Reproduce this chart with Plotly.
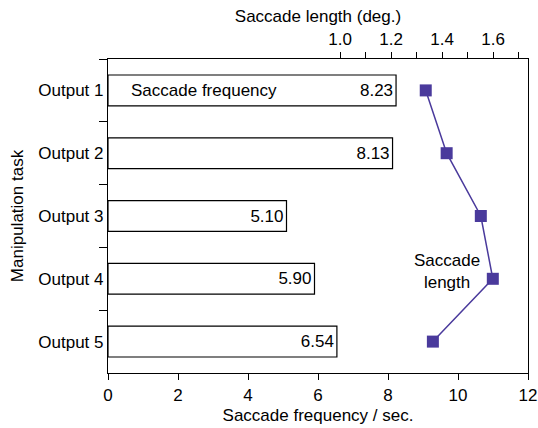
import plotly.graph_objects as go

tasks = ["Output 1", "Output 2", "Output 3", "Output 4", "Output 5"]
freq = [8.23, 8.13, 5.10, 5.90, 6.54]
length = [1.336, 1.418, 1.552, 1.599, 1.364]
freq_ticks = [0, 2, 4, 6, 8, 10, 12]
len_ticks = [1.0, 1.1, 1.2, 1.3, 1.4, 1.5, 1.6, 1.7]
len_labels = ["1.0", "", "1.2", "", "1.4", "", "1.6", ""]

FONT = "Liberation Sans, Arial, Helvetica, sans-serif"
PURPLE = "#4a3a9c"
FS = 17

fig = go.Figure()
fig.add_trace(go.Bar(
    y=tasks, x=freq, orientation="h", width=0.49,
    marker=dict(color="white", line=dict(color="black", width=1.2)),
    text=[f"{v:.2f}" for v in freq], textposition="inside",
    insidetextanchor="end", constraintext="none",
    textfont=dict(color="black", size=FS, family=FONT),
    showlegend=False, hoverinfo="skip",
))
fig.add_trace(go.Scatter(
    y=tasks, x=length, xaxis="x2", mode="lines+markers",
    line=dict(color=PURPLE, width=1.5),
    marker=dict(symbol="square", size=12, color=PURPLE),
    showlegend=False, hoverinfo="skip",
))

fig.add_annotation(x=0.6, y=0, xref="x", yref="y", text="Saccade frequency",
                   showarrow=False, xanchor="left", font=dict(size=FS, family=FONT, color="black"))
fig.add_annotation(x=1.42, y=2.88, xref="x2", yref="y", text="Saccade<br>length",
                   showarrow=False, xanchor="center", font=dict(size=FS, family=FONT, color="black"))

axis_common = dict(showline=True, linecolor="black", linewidth=1.2, showgrid=False,
                   zeroline=False, ticks="outside", tickcolor="black", tickwidth=1.2,
                   automargin=False,
                   tickfont=dict(size=FS, family=FONT, color="black"))

fig.update_layout(
    width=538, height=428,
    margin=dict(l=108, r=10, t=59, b=55),
    paper_bgcolor="white", plot_bgcolor="white",
    font=dict(family=FONT, size=FS, color="black"),
    bargap=0.5,
    xaxis=dict(range=[0, 12], tickvals=freq_ticks, ticklen=6,
               title=dict(text="Saccade frequency / sec.", font=dict(size=FS), standoff=5),
               **axis_common),
    xaxis2=dict(overlaying="x", side="top", range=[0.09, 1.737], tickvals=len_ticks,
                ticktext=len_labels, ticklen=6,
                title=dict(text="Saccade length (deg.)", font=dict(size=FS), standoff=3),
                **axis_common),
    yaxis=dict(type="category", categoryorder="array", categoryarray=tasks,
               range=[4.5, -0.5], tickson="boundaries", ticklen=8, mirror=True,
               title=dict(text="Manipulation task", font=dict(size=FS), standoff=10),
               **axis_common),
)

fig.write_html("out.html")
